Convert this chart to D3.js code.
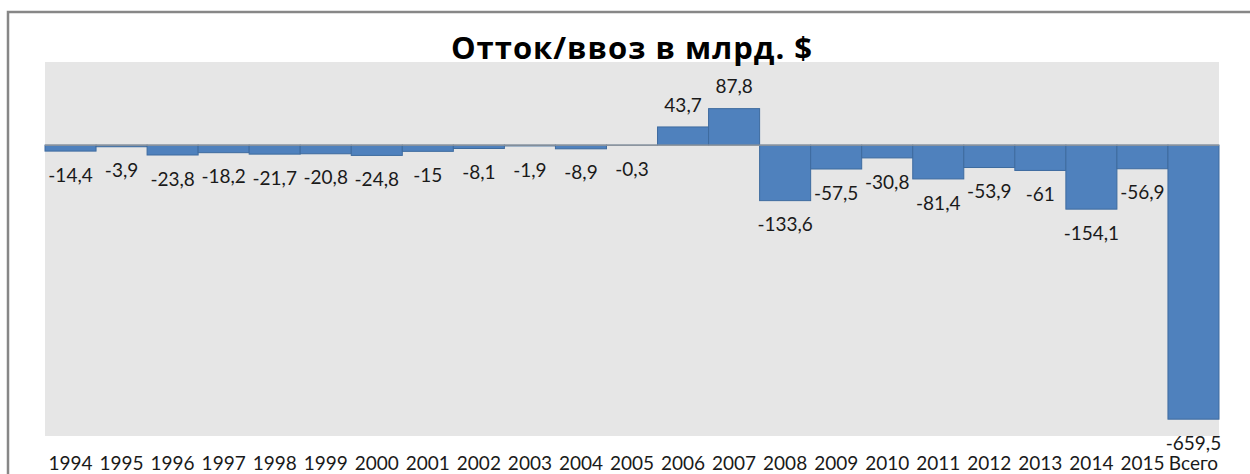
<!DOCTYPE html>
<html>
<head>
<meta charset="utf-8">
<script src="https://cdn.jsdelivr.net/npm/d3@7"></script>
<style>
  body { margin: 0; background: #fff; }
  svg { display: block; font-family: Lato, "Open Sans", sans-serif; }
</style>
</head>
<body>
<svg></svg>
<script>
const width = 1250;
const height = 474;

const categories = ["1994", "1995", "1996", "1997", "1998", "1999", "2000", "2001", "2002", "2003", "2004", "2005",
  "2006", "2007", "2008", "2009", "2010", "2011", "2012", "2013", "2014", "2015", "Всего"];
const values = [-14.4, -3.9, -23.8, -18.2, -21.7, -20.8, -24.8, -15, -8.1, -1.9, -8.9, -0.3,
  43.7, 87.8, -133.6, -57.5, -30.8, -81.4, -53.9, -61, -154.1, -56.9, -659.5];
const title = "Отток/ввоз в млрд. $";

const plot = { left: 45, right: 1219, top: 62, bottom: 436 };

const svg = d3.select("svg").attr("width", width).attr("height", height);

// outer chart frame (runs off the right and bottom of the picture)
svg.append("rect")
  .attr("x", 8).attr("y", 12)
  .attr("width", 1300).attr("height", 500)
  .attr("fill", "#fff")
  .attr("stroke", "#878787")
  .attr("stroke-width", 2.5);

svg.append("rect")
  .attr("x", plot.left).attr("y", plot.top)
  .attr("width", plot.right - plot.left).attr("height", plot.bottom - plot.top)
  .attr("fill", "#e6e6e6");

const x = d3.scaleBand().domain(categories).range([plot.left, plot.right]).padding(0);
const y = d3.scaleLinear().domain([-700, 200]).range([plot.bottom, plot.top]);

const data = categories.map((c, i) => ({ cat: c, val: values[i] }));
const fmt = v => String(v).replace(".", ",");

svg.append("g")
  .selectAll("rect")
  .data(data)
  .join("rect")
  .attr("x", d => x(d.cat))
  .attr("width", x.bandwidth())
  .attr("y", d => y(Math.max(0, d.val)))
  .attr("height", d => Math.abs(y(d.val) - y(0)))
  .attr("fill", "#4f81bd")
  .attr("stroke", "#3e6b9f")
  .attr("stroke-width", 1);

svg.append("line")
  .attr("x1", plot.left).attr("x2", plot.right)
  .attr("y1", y(0)).attr("y2", y(0))
  .attr("stroke", "#9a9a9a")
  .attr("stroke-width", 1.2);

svg.append("g")
  .selectAll("text")
  .data(data)
  .join("text")
  .attr("x", d => x(d.cat) + x.bandwidth() / 2)
  .attr("y", d => d.val < 0 ? y(d.val) + 24 : y(d.val) - 22)
  .attr("dy", "0.35em")
  .attr("text-anchor", "middle")
  .attr("font-size", 19)
  .attr("fill", "#1a1a1a")
  .text(d => fmt(d.val));

const xAxis = svg.append("g")
  .attr("transform", `translate(0,${plot.bottom})`)
  .call(d3.axisBottom(x).tickSize(0).tickPadding(21));
xAxis.select(".domain").remove();
xAxis.selectAll("text")
  .attr("font-family", "Lato, 'Open Sans', sans-serif")
  .attr("font-size", 19)
  .attr("fill", "#1a1a1a");

svg.append("text")
  .attr("x", 632)
  .attr("y", 48)
  .attr("dy", "0.35em")
  .attr("text-anchor", "middle")
  .attr("font-family", "'Open Sans', Lato, sans-serif")
  .attr("font-size", 31)
  .attr("font-weight", "bold")
  .attr("letter-spacing", 1)
  .attr("fill", "#000")
  .text(title);
</script>
</body>
</html>
